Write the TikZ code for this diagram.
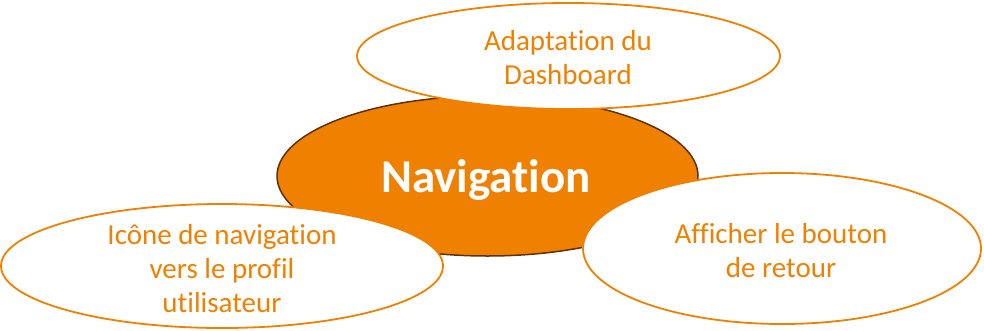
\documentclass[tikz,border=0pt]{standalone}
\usepackage{fontspec}
\setmainfont[Ligatures={NoCommon}]{Carlito}
\usetikzlibrary{shapes.geometric}
\definecolor{navorange}{RGB}{240,128,0}
\definecolor{navbrown}{RGB}{94,48,14}
\begin{document}
\begin{tikzpicture}[x=1pt, y=-1pt]

% Styles
\tikzstyle{hub}    = [draw=navbrown, line width=1.5pt, fill=navorange, ellipse, inner sep=0pt]
\tikzstyle{bubble} = [draw=navorange, line width=1.8pt, fill=white, ellipse, inner sep=0pt]
\tikzstyle{hubtext}    = [text=white, font=\fontsize{47}{50}\selectfont\bfseries]
\tikzstyle{bubbletext} = [text=navorange, align=center, font=\fontsize{29}{34}\selectfont]

\useasboundingbox (0,0) rectangle (984,330);

% Nodes
\node [hub, minimum width=421pt, minimum height=160pt] (nav) at (487.5,176) {};
\node [hubtext, anchor=base] (navlabel) at (486,192) {Navigation};

\node [bubble, minimum width=423pt, minimum height=106pt] (dash) at (568.5,56) {};
\node [bubbletext] (dashlabel) at (568,58) {Adaptation du\\Dashboard};

\node [bubble, minimum width=442pt, minimum height=124pt] (profil) at (222,266) {};
\node [bubbletext] (profillabel) at (222,269) {Icône de navigation\\vers le profil\\utilisateur};

\node [bubble, minimum width=398pt, minimum height=151pt] (retour) at (782,248.5) {};
\node [bubbletext] (retourlabel) at (781,251) {Afficher le bouton\\de retour};

\end{tikzpicture}
\end{document}
